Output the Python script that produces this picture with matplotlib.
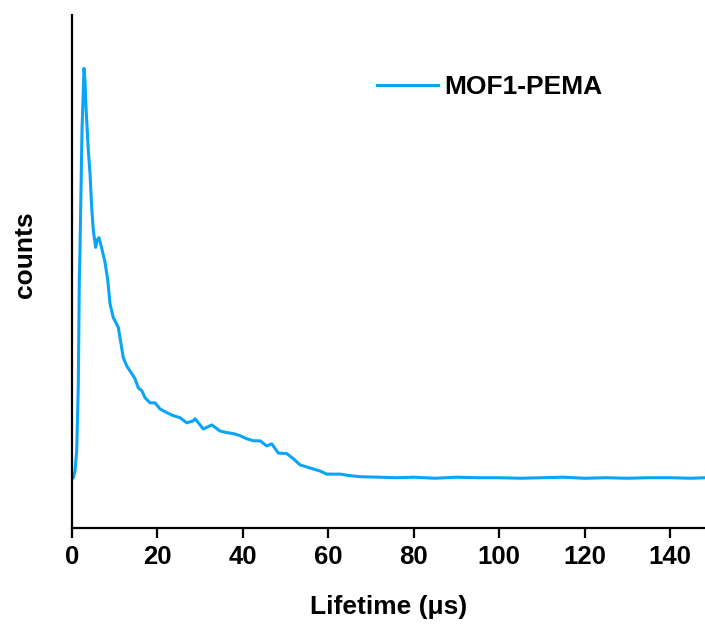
import numpy as np
import matplotlib
matplotlib.use('Agg')
import matplotlib.pyplot as plt

plt.rcParams['font.family'] = ['Liberation Sans', 'DejaVu Sans']
plt.rcParams['font.weight'] = 'bold'

# decay curve (time in us, counts in arbitrary units)
lifetime = [0.0, 0.30, 0.70, 1.10, 1.48, 1.71, 1.87, 2.34, 2.81, 3.04, 3.28, 3.82,
            4.22, 4.61, 4.99, 5.55, 5.85, 6.32, 6.96, 7.73, 8.36, 8.90, 9.67, 10.84,
            12.01, 12.81, 13.98, 14.75, 15.53, 16.32, 17.10, 18.27, 19.44, 20.61,
            22.18, 23.72, 25.29, 26.86, 28.41, 28.81, 30.75, 32.72, 34.66, 36.23,
            37.78, 39.34, 40.91, 42.46, 44.03, 45.60, 46.77, 48.31, 50.28, 51.83,
            53.40, 55.74, 58.08, 59.65, 62.76, 65.11, 67.45, 72.0, 76.0, 80.0, 85.0,
            90.0, 95.0, 100.0, 105.0, 110.0, 115.0, 120.0, 125.0, 130.0, 135.0,
            140.0, 145.0, 148.5]
counts = [96, 98, 111, 150, 281, 482, 541, 775, 896, 873, 820, 736,
          691, 625, 580, 547, 561, 566, 545, 518, 484, 437, 410, 391,
          332, 316, 301, 291, 273, 268, 254, 244, 244, 232,
          225, 219, 215, 205, 209, 213, 193, 201, 189, 186,
          184, 180, 174, 170, 170, 160, 164, 146, 145, 135,
          123, 117, 111, 105, 105, 102, 100, 99, 98, 99, 97,
          99, 98, 98, 97, 98, 99, 97, 98, 97, 98,
          98, 97, 98]

fig = plt.figure(figsize=(7.05, 6.24), dpi=100)
ax = fig.add_axes([72 / 705, 96 / 624, 633 / 705, 513 / 624])

ax.plot(lifetime, counts, color='#0AA5F8', lw=2.2, label='MOF1-PEMA')

ax.set_xlim(0, 148.2)
ax.set_ylim(0, 1000)
ax.set_xticks(np.arange(0, 141, 20))
ax.set_yticks([])

for s in ['top', 'right']:
    ax.spines[s].set_visible(False)
for s in ['left', 'bottom']:
    ax.spines[s].set_linewidth(1.6)
ax.tick_params(axis='x', direction='out', length=7, width=1.6, pad=5, labelsize=18.5)

ax.set_xlabel('Lifetime (μs)', fontsize=19, fontweight='bold', labelpad=19)
ax.set_ylabel('counts', fontsize=19, fontweight='bold')
ax.yaxis.set_label_coords(-0.056, 0.533)

ax.legend(loc='center left', bbox_to_anchor=(0.482, 0.859), frameon=False,
          fontsize=19, handlelength=2.3, handletextpad=0.25,
          borderaxespad=0, borderpad=0)

fig.savefig('out.png', dpi=100)
